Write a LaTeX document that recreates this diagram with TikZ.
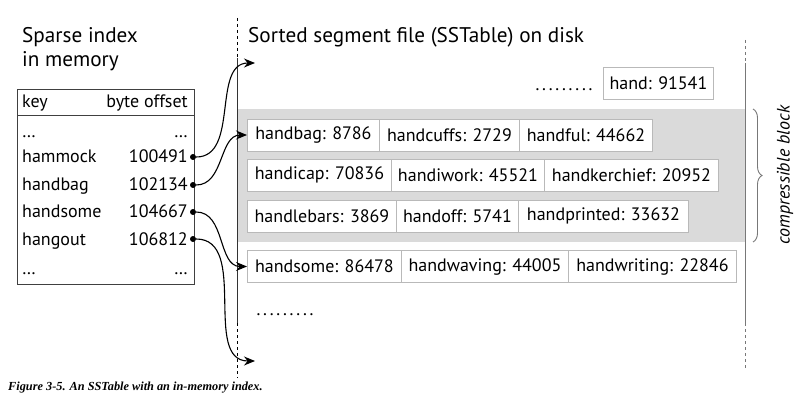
\documentclass[tikz,border=0pt]{standalone}
\usepackage{fontspec}
\setmainfont{PT Sans}
\newfontfamily\capfont{Liberation Serif}
\usetikzlibrary{arrows.meta,decorations.pathreplacing}
\definecolor{blockgray}{RGB}{218,218,218}
\definecolor{cellline}{RGB}{185,185,185}
\definecolor{axisgray}{RGB}{120,120,120}
\begin{document}
\begin{tikzpicture}[x=1pt,y=-1pt,
  cell/.style={draw=cellline, line width=0.9pt, fill=white, minimum height=32pt, inner sep=0pt, anchor=west, font=\fontsize{18}{20}\selectfont},
  tabtext/.style={inner sep=0pt, font=\fontsize{18}{20}\selectfont},
  dotrow/.style={inner sep=0pt, anchor=base, font=\fontsize{18}{20}\selectfont\addfontfeature{LetterSpace=9}},
  title/.style={inner sep=0pt, anchor=base west, font=\fontsize{21.2}{24}\selectfont, align=left},
  dot/.style={circle, fill=black, inner sep=0pt, minimum size=6pt},
  conn/.style={-{Stealth[length=11pt,width=9pt]}, line width=1.1pt}
]
\useasboundingbox (0,0) rectangle (800,406);
% compressible block background
\fill[blockgray] (237,109) rectangle (745,242);
% vertical lines
\draw[dashed, line width=0.9pt, black] (237,18) -- (237,58);
\draw[line width=0.9pt, black!80] (237,58) -- (237,323);
\draw[dashed, line width=0.9pt, black] (237,323) -- (237,378);
\draw[dashed, line width=0.9pt, axisgray] (745,40) -- (745,63);
\draw[line width=0.9pt, axisgray] (745,63) -- (745,323);
\draw[dashed, line width=0.9pt, axisgray] (745,323) -- (745,368);
% titles
\node[title] (t1) at (22,43) {Sparse index};
\node[title] (t2) at (22,67) {in memory};
\node[title] (t3) at (248,43) {Sorted segment file (SSTable) on disk};
% table
\node[draw=black!75, line width=0.9pt, minimum width=177pt, minimum height=195pt, anchor=north west, inner sep=0pt] (tbl) at (17,89) {};
\draw[black!75, line width=0.9pt] (17,115) -- (194,115);
\node[tabtext, anchor=base west] (hk) at (22,108) {key};
\node[tabtext, anchor=base east] (hv) at (188,108) {byte offset};
\node[tabtext, anchor=base west] (k0) at (22,138) {\dots};
\node[tabtext, anchor=base east] (v0) at (188,138) {\dots};
\node[tabtext, anchor=base west] (k1) at (22,163) {hammock};
\node[tabtext, anchor=base east] (v1) at (188,163) {100491};
\node[tabtext, anchor=base west] (k2) at (22,191) {handbag};
\node[tabtext, anchor=base east] (v2) at (188,191) {102134};
\node[tabtext, anchor=base west] (k3) at (22,218) {handsome};
\node[tabtext, anchor=base east] (v3) at (188,218) {104667};
\node[tabtext, anchor=base west] (k4) at (22,245) {hangout};
\node[tabtext, anchor=base east] (v4) at (188,245) {106812};
\node[tabtext, anchor=base west] (k5) at (22,274) {\dots};
\node[tabtext, anchor=base east] (v5) at (188,274) {\dots};
% dots
\node[dot] (d1) at (193,157) {};
\node[dot] (d2) at (193,185) {};
\node[dot] (d3) at (193,212) {};
\node[dot] (d4) at (193,239) {};
% row 0
\node[dotrow] (dots1) at (564,91) {.........};
\node[cell, minimum width=110pt] (c0) at (603,83) {hand: 91541};
% row 1
\node[cell, minimum width=132pt] (c11) at (247,135) {handbag: 8786};
\node[cell, minimum width=140pt] (c12) at (379,135) {handcuffs: 2729};
\node[cell, minimum width=133pt] (c13) at (519,135) {handful: 44662};
% row 2
\node[cell, minimum width=144pt] (c21) at (247,175) {handicap: 70836};
\node[cell, minimum width=153pt] (c22) at (391,175) {handiwork: 45521};
\node[cell, minimum width=174pt] (c23) at (544,175) {handkerchief: 20952};
% row 3
\node[cell, minimum width=149pt] (c31) at (247,216) {handlebars: 3869};
\node[cell, minimum width=122pt] (c32) at (396,216) {handoff: 5741};
\node[cell, minimum width=170pt] (c33) at (518,216) {handprinted: 33632};
% row 4
\node[cell, minimum width=154pt] (c41) at (247,266.5) {handsome: 86478};
\node[cell, minimum width=167pt] (c42) at (401,266.5) {handwaving: 44005};
\node[cell, minimum width=168pt] (c43) at (568,266.5) {handwriting: 22846};
\node[dotrow] (dots2) at (285,315) {.........};
% free end points
\coordinate (e1) at (255,63);
\coordinate (e4) at (255,361);
% connectors
\draw[conn] (d1) to[out=0,in=180] (e1);
\draw[conn] (d2) to[out=0,in=180] (c11.west);
\draw[conn] (d3) to[out=0,in=180] (c41.west);
\draw[conn] (d4) to[out=0,in=180] (e4);
% brace
\draw[decorate, decoration={brace, amplitude=9pt}, axisgray, line width=0.9pt] (753,109) -- (753,242);
\node[inner sep=0pt, rotate=90, font=\fontsize{18}{20}\selectfont\itshape] (cb) at (785,175) {compressible block};
% caption
\node[inner sep=0pt, anchor=base west, font=\capfont\fontsize{12.3}{14}\selectfont\bfseries\itshape] (cap) at (8,390) {Figure 3-5. An SSTable with an in-memory index.};
\end{tikzpicture}
\end{document}
